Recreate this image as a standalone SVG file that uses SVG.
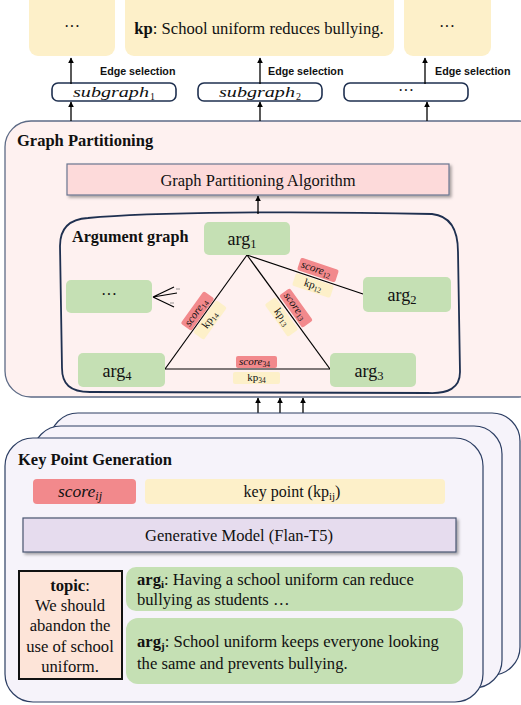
<svg xmlns="http://www.w3.org/2000/svg" width="521" height="705" viewBox="0 0 521 705">
<style>
.kpbox{fill:#fdf0c9}
.red{fill:#f2898c}
.green{fill:#c5e0b4}
.sg{fill:#fff;stroke:#1f3050;stroke-width:1.6}
.card{fill:#f6f3fa;stroke:#2c3e63;stroke-width:1.2}
.conn{stroke:#000;stroke-width:1.3;fill:none}
.edge{stroke:#000;stroke-width:1.2;fill:none}
</style>
<defs>
<marker id="ah" viewBox="0 0 10 10" refX="9" refY="5" markerWidth="6" markerHeight="6" markerUnits="userSpaceOnUse" orient="auto">
<path d="M0,0 L10,5 L0,10 z" fill="#000"/>
</marker>
<filter id="sh" x="-5%" y="-20%" width="110%" height="150%">
<feDropShadow dx="2" dy="2" stdDeviation="1.5" flood-color="#000" flood-opacity="0.35"/>
</filter>
</defs>
<g font-family="'Liberation Serif', serif" fill="#111">

<!-- top key point outputs -->
<g id="out1"><rect class="kpbox" x="29" y="-10" width="86" height="66" rx="9"/><text x="72" y="32" font-size="16" text-anchor="middle">···</text></g>
<g id="out2"><rect class="kpbox" x="125" y="-10" width="269" height="66" rx="9"/><text x="259" y="34" font-size="16.6" text-anchor="middle"><tspan font-weight="bold">kp</tspan>: School uniform reduces bullying.</text></g>
<g id="out3"><rect class="kpbox" x="404" y="-10" width="87" height="66" rx="9"/><text x="447" y="32" font-size="16" text-anchor="middle">···</text></g>

<!-- subgraphs -->
<g id="subgraph1"><rect class="sg" x="52" y="83" width="124" height="18" rx="6"/><text x="73" y="97" font-size="15" font-style="italic" textLength="76" lengthAdjust="spacingAndGlyphs">subgraph</text><text x="150" y="100" font-size="10">1</text></g>
<g id="subgraph2"><rect class="sg" x="198" y="83" width="124" height="18" rx="6"/><text x="219" y="97" font-size="15" font-style="italic" textLength="76" lengthAdjust="spacingAndGlyphs">subgraph</text><text x="296" y="100" font-size="10">2</text></g>
<g id="subgraph3"><rect class="sg" x="344" y="83" width="124" height="18" rx="6"/><text x="406" y="96" font-size="16" text-anchor="middle">···</text></g>

<!-- Graph partitioning panel -->
<g id="graph-partitioning">
<rect x="5" y="121" width="540" height="276" rx="26" fill="#fef1f0" stroke="#5d6b86" stroke-width="1.3"/>
<text x="17" y="146" font-size="16.5" font-weight="bold">Graph Partitioning</text>
</g>
<g id="gp-algorithm">
<rect x="67" y="164" width="382" height="31" fill="#fddada" stroke="#6b7690" stroke-width="1.2" filter="url(#sh)"/>
<text x="258" y="186" font-size="16.5" text-anchor="middle">Graph Partitioning Algorithm</text>
</g>
<g id="argument-graph">
<path d="M88 218 C150 212,300 211,432 214 C452 216,458 232,458 252 L460 372 C460 388,448 394,428 393 L90 392 C70 392,62 384,62 368 L60 246 C60 228,70 219,88 218 Z" fill="none" stroke="#1f3050" stroke-width="1.8"/>
<text x="72" y="242" font-size="16.2" font-weight="bold">Argument graph</text>
</g>

<!-- connectors -->
<g id="connectors">
<line class="conn" x1="71" y1="84" x2="71" y2="58" marker-end="url(#ah)"/>
<line class="conn" x1="260" y1="84" x2="260" y2="58" marker-end="url(#ah)"/>
<line class="conn" x1="425" y1="84" x2="425" y2="58" marker-end="url(#ah)"/>
<line class="conn" x1="71" y1="121" x2="71" y2="102" marker-end="url(#ah)"/>
<line class="conn" x1="260" y1="121" x2="260" y2="102" marker-end="url(#ah)"/>
<line class="conn" x1="427" y1="121" x2="427" y2="102" marker-end="url(#ah)"/>
<line class="conn" x1="258" y1="214" x2="258" y2="196" marker-end="url(#ah)"/>
<line class="conn" x1="258" y1="438" x2="258" y2="398" marker-end="url(#ah)"/>
<line class="conn" x1="280" y1="426" x2="280" y2="398" marker-end="url(#ah)"/>
<line class="conn" x1="303" y1="413" x2="303" y2="398" marker-end="url(#ah)"/>
<line class="conn" x1="219" y1="518" x2="219" y2="505" marker-end="url(#ah)"/>
<line class="conn" x1="219" y1="567" x2="219" y2="553" marker-end="url(#ah)"/>
<!-- argument graph edges -->
<line class="edge" x1="247" y1="255" x2="363" y2="294"/>
<line class="edge" x1="247" y1="255" x2="165" y2="369"/>
<line class="edge" x1="247" y1="255" x2="330" y2="369"/>
<line class="edge" x1="165" y1="369" x2="330" y2="369"/>
<path class="edge" d="M153 297 L174 287 M153 297 L177 293 M153 297 L174 307"/>
<path d="M176 289 L180 289 M170 303 L174 303" stroke="#555" stroke-width="0.6"/>
</g>

<g id="edge-labels">
<g transform="translate(318 270) rotate(18.6)"><rect class="red" x="-20" y="-6.5" width="40" height="13" rx="2"/><text x="-2" y="3" font-size="11" font-style="italic" text-anchor="middle">score<tspan font-style="normal" font-size="7.5" dy="2">12</tspan></text></g>
<g transform="translate(313 285.5) rotate(18.6)"><rect class="kpbox" x="-20" y="-6.5" width="40" height="13" rx="2"/><text x="0" y="3" font-size="11" text-anchor="middle">kp<tspan font-size="7.5" dy="2">12</tspan></text></g>
<g transform="translate(197.5 311) rotate(-54.3)"><rect class="red" x="-20" y="-6.5" width="40" height="13" rx="2"/><text x="-2" y="3" font-size="11" font-style="italic" text-anchor="middle">score<tspan font-style="normal" font-size="7.5" dy="2">14</tspan></text></g>
<g transform="translate(210 320) rotate(-54.3)"><rect class="kpbox" x="-20" y="-6.5" width="40" height="13" rx="2"/><text x="0" y="3" font-size="11" text-anchor="middle">kp<tspan font-size="7.5" dy="2">14</tspan></text></g>
<g transform="translate(296 308) rotate(54.3)"><rect class="red" x="-20" y="-6.5" width="40" height="13" rx="2"/><text x="-2" y="3" font-size="11" font-style="italic" text-anchor="middle">score<tspan font-style="normal" font-size="7.5" dy="2">13</tspan></text></g>
<g transform="translate(281.5 317) rotate(54.3)"><rect class="kpbox" x="-20" y="-6.5" width="40" height="13" rx="2"/><text x="0" y="3" font-size="11" text-anchor="middle">kp<tspan font-size="7.5" dy="2">13</tspan></text></g>
<g transform="translate(256.5 362)"><rect class="red" x="-20.5" y="-6" width="41" height="12" rx="2"/><text x="-2" y="3" font-size="11" font-style="italic" text-anchor="middle">score<tspan font-style="normal" font-size="7.5" dy="2">34</tspan></text></g>
<g transform="translate(256.5 378)"><rect class="kpbox" x="-23.5" y="-6" width="47" height="12" rx="2"/><text x="0" y="3" font-size="11" text-anchor="middle">kp<tspan font-size="7.5" dy="2">34</tspan></text></g>
</g>

<!-- argument nodes -->
<g id="arg1"><rect class="green" x="204" y="222" width="86" height="33" rx="5"/><text x="242" y="245" font-size="18" text-anchor="middle">arg<tspan font-size="12.5" dy="3">1</tspan></text></g>
<g id="arg2"><rect class="green" x="363" y="277" width="88" height="35" rx="5"/><text x="402" y="301" font-size="18" text-anchor="middle">arg<tspan font-size="12.5" dy="3">2</tspan></text></g>
<g id="arg-more"><rect class="green" x="66" y="280" width="86" height="33" rx="5"/><text x="109" y="300" font-size="16" text-anchor="middle">···</text></g>
<g id="arg4"><rect class="green" x="78" y="353" width="87" height="34" rx="5"/><text x="117" y="377" font-size="18" text-anchor="middle">arg<tspan font-size="12.5" dy="3">4</tspan></text></g>
<g id="arg3"><rect class="green" x="330" y="353" width="86" height="34" rx="5"/><text x="369" y="377" font-size="18" text-anchor="middle">arg<tspan font-size="12.5" dy="3">3</tspan></text></g>

<!-- Key point generation stacked cards -->
<g id="key-point-generation">
<rect class="card" x="50" y="413" width="470" height="262" rx="28"/>
<rect class="card" x="33" y="426" width="469" height="262" rx="28"/>
<rect class="card" x="5" y="438" width="478" height="264" rx="28"/>
<text x="18" y="465" font-size="16.5" font-weight="bold">Key Point Generation</text>
</g>
<g id="score-ij"><rect class="red" x="33" y="479" width="103" height="25" rx="4"/><text x="80" y="497" font-size="17.5" font-style="italic" text-anchor="middle">score<tspan font-size="12" dy="3">ij</tspan></text></g>
<g id="key-point"><rect class="kpbox" x="145" y="479" width="300" height="25" rx="4"/><text x="292" y="497" font-size="16" text-anchor="middle">key point (kp<tspan font-size="11" dy="3">ij</tspan><tspan dy="-3">)</tspan></text></g>
<g id="generative-model"><rect x="23" y="518" width="433" height="34" fill="#e6dcee" stroke="#4a5570" stroke-width="1.2" filter="url(#sh)"/><text x="239" y="541" font-size="16.5" text-anchor="middle">Generative Model (Flan-T5)</text></g>
<g id="topic"><rect x="19" y="571" width="103" height="108" fill="#fde4d8" stroke="#111" stroke-width="2"/>
<text font-size="16.6" text-anchor="middle"><tspan x="70" y="591"><tspan font-weight="bold">topic</tspan>:</tspan><tspan x="70" y="611">We should</tspan><tspan x="70" y="631">abandon the</tspan><tspan x="70" y="652">use of school</tspan><tspan x="70" y="672">uniform.</tspan></text></g>
<g id="arg-i"><rect class="green" x="126" y="567" width="337" height="44" rx="10"/><text font-size="16.6"><tspan x="137" y="585"><tspan font-weight="bold">arg<tspan font-size="11" dy="3">i</tspan></tspan><tspan dy="-3">:  Having a school uniform can reduce</tspan></tspan><tspan x="137" y="605">bullying as students …</tspan></text></g>
<g id="arg-j"><rect class="green" x="126" y="618" width="337" height="66" rx="12"/><text font-size="16.6"><tspan x="137" y="647"><tspan font-weight="bold">arg<tspan font-size="11" dy="3">j</tspan></tspan><tspan dy="-3">: School uniform keeps everyone looking</tspan></tspan><tspan x="137" y="669">the same and prevents bullying.</tspan></text></g>

<!-- edge selection labels -->
<g id="edge-selection-labels" font-family="'Liberation Sans', sans-serif" font-weight="bold" font-size="10.7">
<text x="100" y="75">Edge selection</text>
<text x="268" y="75">Edge selection</text>
<text x="435" y="75">Edge selection</text>
</g>
</g>
</svg>
